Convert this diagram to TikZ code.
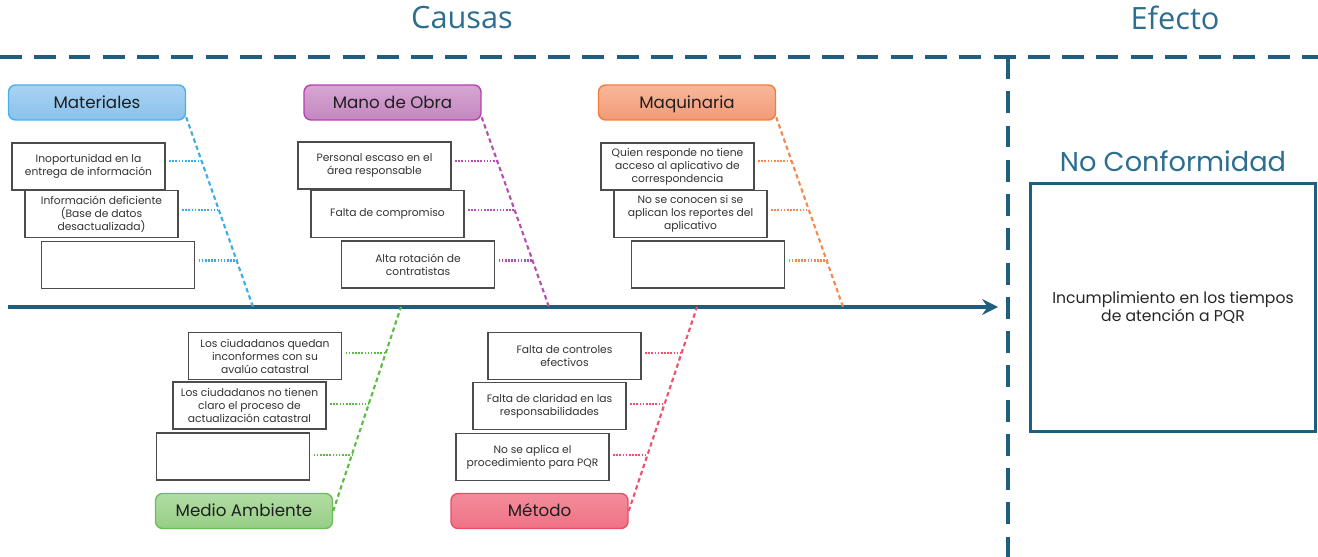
\documentclass[tikz,border=0pt]{standalone}
\usepackage{fontspec}
\setmainfont{Poppins}
\newfontfamily\titlefont{Open Sans}
\usetikzlibrary{arrows.meta,calc}
\definecolor{azul}{HTML}{1F5E7E}
\definecolor{azultit}{HTML}{2C6E90}
\definecolor{matB}{HTML}{47B0E8}\definecolor{matT}{HTML}{A9D3F3}\definecolor{matF}{HTML}{8AC1EC}\definecolor{matL}{HTML}{3BADE0}
\definecolor{obrB}{HTML}{B640AE}\definecolor{obrT}{HTML}{D6A6D2}\definecolor{obrF}{HTML}{C487C0}\definecolor{obrL}{HTML}{B44FB0}
\definecolor{maqB}{HTML}{F27C3E}\definecolor{maqT}{HTML}{F8B79A}\definecolor{maqF}{HTML}{F29A76}\definecolor{maqL}{HTML}{F2894F}
\definecolor{medB}{HTML}{6ABF55}\definecolor{medT}{HTML}{B2DDA4}\definecolor{medF}{HTML}{96CE86}\definecolor{medL}{HTML}{5DBB45}
\definecolor{metB}{HTML}{EA4D66}\definecolor{metT}{HTML}{F48C9A}\definecolor{metF}{HTML}{EE7285}\definecolor{metL}{HTML}{F0506B}
\tikzset{every node/.style={font=\fontsize{6.1}{7.4}\selectfont,text=black!80}}
\tikzset{causa/.style={rectangle,draw=black!70,line width=0.7pt,fill=white,minimum width=3.06cm,minimum height=0.94cm,align=center,inner sep=1pt}}
\tikzset{cat/.style={rectangle,rounded corners=4pt,line width=0.8pt,minimum width=3.54cm,minimum height=0.7cm,text height=1.6ex,text depth=0.4ex,font=\fontsize{9.5}{11}\selectfont,text=black!88}}
\tikzset{titulo/.style={font=\titlefont\fontsize{17.5}{20}\selectfont,text=azultit}}
\tikzset{marco/.style={azul,line width=2.2pt,dash pattern=on 12.5pt off 7pt}}
\tikzset{espina/.style={line width=1.2pt,dash pattern=on 2.5pt off 1.8pt}}
\tikzset{ramita/.style={line width=1.2pt,dash pattern=on 0.9pt off 0.9pt}}

\begin{document}
\begin{tikzpicture}[x=0.02cm,y=-0.02cm]
  \useasboundingbox (0,0) rectangle (1318,557);
  % titulos
  \node[titulo] (causas) at (462,18) {Causas};
  \node[titulo] (efecto) at (1175,18) {Efecto};
  % marco punteado
  \coordinate (hL) at (0,57); \coordinate (hR) at (1318,57);
  \coordinate (vT) at (1008,57); \coordinate (vB) at (1008,557);
  \draw[marco] (hL) -- (hR);
  \draw[marco] (vT) -- (vB);
  % categorias
  \node[cat,draw=matB,top color=matT,bottom color=matF] (mat) at (97,102.5) {Materiales};
  \node[cat,draw=obrB,top color=obrT,bottom color=obrF] (obr) at (392.5,102.5) {Mano de Obra};
  \node[cat,draw=maqB,top color=maqT,bottom color=maqF] (maq) at (687,102.5) {Maquinaria};
  \node[cat,draw=medB,top color=medT,bottom color=medF] (med) at (244,511) {Medio Ambiente};
  \node[cat,draw=metB,top color=metT,bottom color=metF] (met) at (539.5,511) {Método};
  % causas
  \node[causa] (m1) at (88.5,166.5) {Inoportunidad en la\\entrega de información};
  \node[causa] (m2) at (101.5,214) {Información deficiente\\(Base de datos\\desactualizada)};
  \node[causa] (m3) at (118,265) {};
  \node[causa] (o1) at (374.5,165.5) {Personal escaso en el\\área responsable};
  \node[causa] (o2) at (387.5,214) {Falta de compromiso};
  \node[causa] (o3) at (418,264.5) {Alta rotación de\\contratistas};
  \node[causa] (q1) at (677.5,166.5) {Quien responde no tiene\\acceso al aplicativo de\\correspondencia};
  \node[causa] (q2) at (690.5,214) {No se conocen si se\\aplican los reportes del\\aplicativo};
  \node[causa] (q3) at (708,264.5) {};
  \node[causa] (a1) at (265,356) {Los ciudadanos quedan\\inconformes con su\\avalúo catastral};
  \node[causa] (a2) at (249.5,405.5) {Los ciudadanos no tienen\\claro el proceso de\\actualización catastral};
  \node[causa] (a3) at (233,456.5) {};
  \node[causa] (t1) at (564.5,356) {Falta de controles\\efectivos};
  \node[causa] (t2) at (549.5,406) {Falta de claridad en las\\responsabilidades};
  \node[causa] (t3) at (532.5,457) {No se aplica el\\procedimiento para PQR};
  % eje principal
  \coordinate (ini) at (8,307);
  \coordinate (fin) at (998,307);
  \draw[azul,line width=2pt,-{Stealth[length=9pt,width=9pt,inset=3pt]}] (ini) -- (fin);
  % espinas
  \coordinate (matS) at ([yshift=2pt]mat.south east); \coordinate (matE) at (253,307);
  \coordinate (obrS) at ([yshift=2pt]obr.south east); \coordinate (obrE) at (549,307);
  \coordinate (maqS) at ([yshift=2pt]maq.south east); \coordinate (maqE) at (843,307);
  \coordinate (medS) at (med.east); \coordinate (medE) at (401,307);
  \coordinate (metS) at (met.east); \coordinate (metE) at (697,307);
  \foreach \s in {mat,obr,maq,med,met}
    \draw[espina,\s L] (\s S) -- (\s E);
  % ramitas
  \foreach \b/\s/\t in {m1/mat/0.23,m2/mat/0.49,m3/mat/0.755,
                        o1/obr/0.23,o2/obr/0.49,o3/obr/0.755,
                        q1/maq/0.23,q2/maq/0.49,q3/maq/0.755,
                        a1/med/0.775,a2/med/0.525,a3/med/0.275,
                        t1/met/0.775,t2/met/0.525,t3/met/0.275}
  {
    \coordinate (p\b) at ($(\s S)!\t!(\s E)$);
    \draw[ramita,\s L] ([xshift=2pt]\b.east |- p\b) -- (p\b);
  }
  % efecto
  \node[font=\fontsize{15.5}{18}\selectfont,text=azultit] (nc) at (1173,161) {No Conformidad};
  \node[draw=azul,line width=1.7pt,minimum width=5.72cm,minimum height=4.98cm,align=center,font=\fontsize{8.9}{10.5}\selectfont,text=black!85] (ef) at (1173,307.5) {Incumplimiento en los tiempos\\de atención a PQR};
\end{tikzpicture}
\end{document}
